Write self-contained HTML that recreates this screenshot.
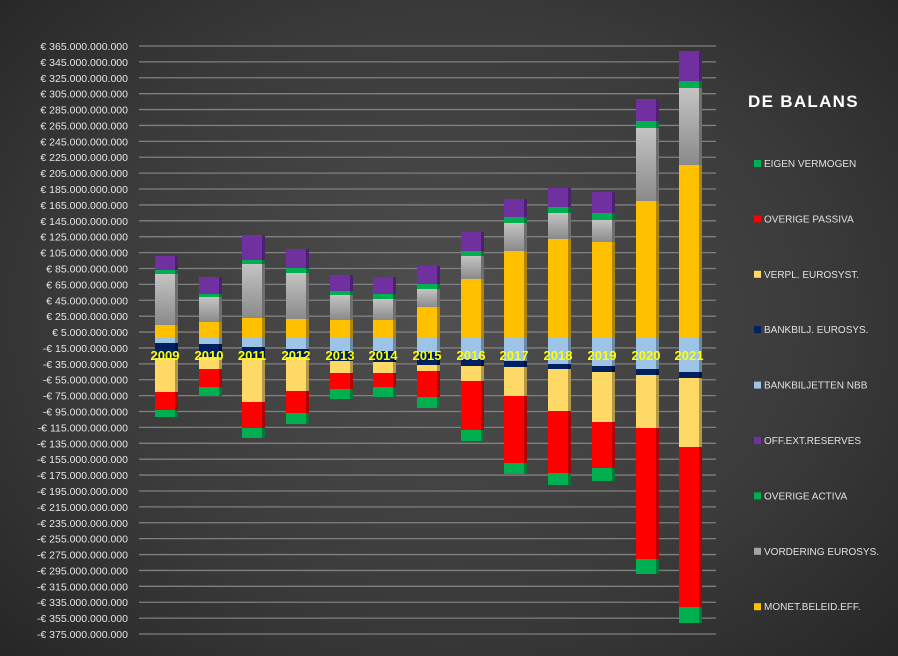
<!DOCTYPE html>
<html><head><meta charset="utf-8"><style>
html,body{margin:0;padding:0;}
body{width:898px;height:656px;overflow:hidden;background:radial-gradient(ellipse 70% 75% at 50% 48%,#4f4f4f 0%,#3a3a3a 60%,#262626 100%);font-family:"Liberation Sans",sans-serif;}
svg{position:absolute;left:0;top:0;}
</style></head><body>
<svg id="s" width="898" height="656" xmlns="http://www.w3.org/2000/svg">
<defs>
<linearGradient id="gr" x1="0" y1="0" x2="0" y2="1"><stop offset="0" stop-color="#c4c4c4"/><stop offset="1" stop-color="#8a8a8a"/></linearGradient>
</defs>
<g id="grid"></g><g id="bars"></g><g id="lab"></g>
<text x="748" y="107" fill="#fff" font-size="17" font-weight="bold" letter-spacing="1.3">DE BALANS</text>
<g id="leg" font-size="10" fill="#e0e0e0"></g>
</svg>
<script>
var ns="http://www.w3.org/2000/svg";
function el(p,t,a,txt){var e=document.createElementNS(ns,t);for(var k in a)e.setAttribute(k,a[k]);if(txt!=null)e.textContent=txt;document.getElementById(p).appendChild(e);}
for(var i=0;i<38;i++){var y=46+i*15.892;var v=365-20*i;
el("grid","line",{x1:139,x2:716,y1:y,y2:y,stroke:"#808080","stroke-width":1.3});
var s=(v<0?"-€ ":"€ ")+Math.abs(v)+".000.000.000";
el("grid","text",{x:128,y:y+4,"text-anchor":"end","font-size":"10.5",fill:"#e6e6e6"},s);}
var X=[155,199,242,286,330,373,417,461,504,548,592,636,679];
var D=[
[256,270,274,325,337,343,358,392,410,417],
[277,294,297,322,337,344,357,369,387,396],
[235,260,264,318,337,347,358,402,428,438],
[249,268,273,319,337,349,357,391,413,424],
[275,291,295,320,337,351,361,373,389,399],
[277,294,299,320,337,351,362,373,387,397],
[266,284,289,307,337,352,365,371,397,408],
[232,251,256,279,337,359,366,381,430,441],
[199,217,223,251,337,361,367,396,463,474],
[188,207,213,239,337,364,369,411,473,485],
[192,213,220,242,337,366,372,422,468,481],
[99,121,128,201,337,369,375,428,559,574],
[51,81,88,165,337,372,378,447,607,623]];
var C=["#7030a0","#00b050","url(#gr)","#ffc000",null,"#9dc3e6","#002060","#ffd966","#ff0000","#00b050"];
var S=["#4e2070","#007a38","#6f6f6f","#b08500",null,"#6e8aa3","#001440","#b39848","#b00000","#007a38"];
for(var b=0;b<13;b++){var d=D[b],x=X[b];
for(var j=0;j<10;j++){if(j==4)continue;var t,bt;
if(j<4){t=d[j];bt=d[j+1];if(j==3)bt=337;}else{t=(j==5?337:d[j-1]);bt=d[j];}
el("bars","rect",{x:x,y:t,width:20,height:bt-t,fill:C[j]});
el("bars","rect",{x:x+20,y:t,width:3,height:bt-t,fill:S[j]});}
el("lab","text",{x:x+10,y:360,"text-anchor":"middle","font-size":"13","font-weight":"bold",fill:"#ffff00"},String(2009+b));}
var L=[["EIGEN VERMOGEN","#00b050"],["OVERIGE PASSIVA","#ff0000"],["VERPL. EUROSYST.","#ffd966"],["BANKBILJ. EUROSYS.","#002060"],["BANKBILJETTEN NBB","#9dc3e6"],["OFF.EXT.RESERVES","#7030a0"],["OVERIGE ACTIVA","#00b050"],["VORDERING EUROSYS.","#a6a6a6"],["MONET.BELEID.EFF.","#ffc000"]];
for(var k=0;k<9;k++){var y=163+k*55.4;
el("leg","rect",{x:754,y:y-3,width:7,height:7,fill:L[k][1]});
el("leg","text",{x:764,y:y+4},L[k][0]);}
</script>
</body></html>
